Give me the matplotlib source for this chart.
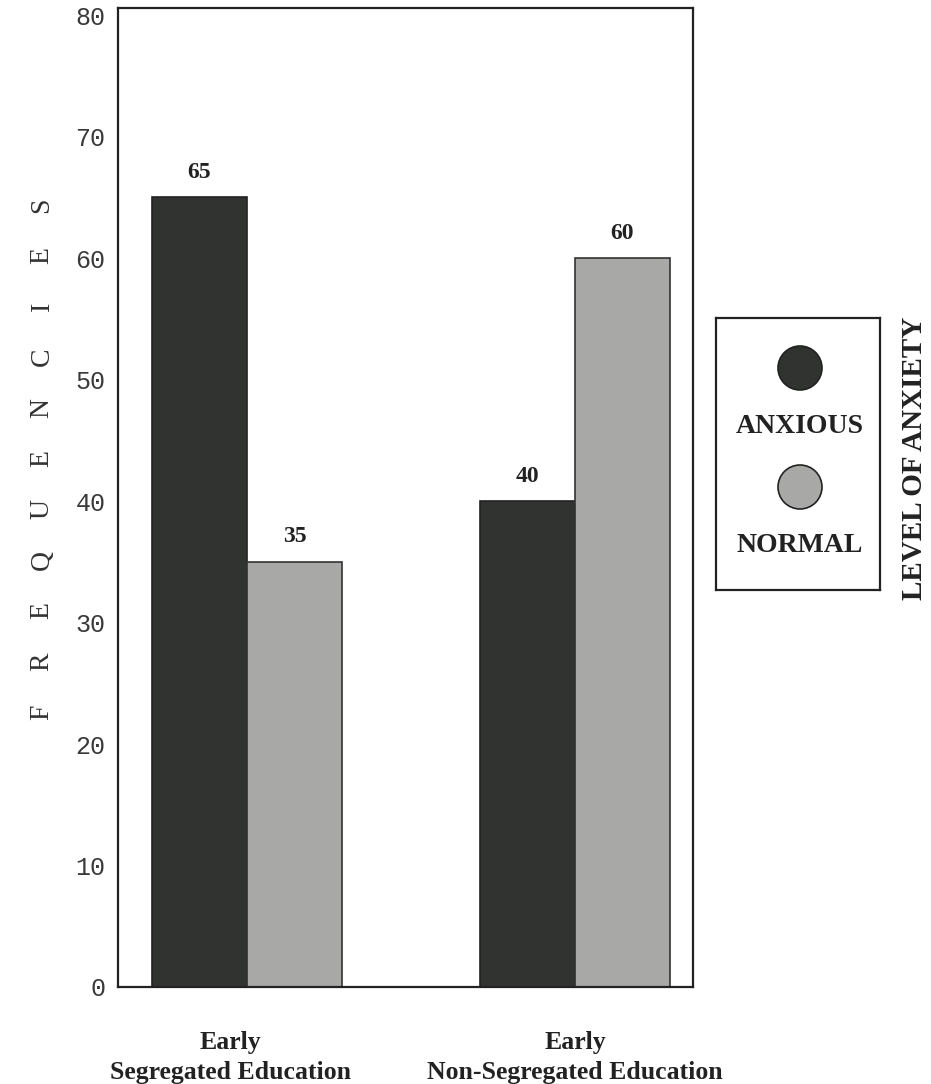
import matplotlib
matplotlib.use("Agg")
import matplotlib.pyplot as plt
from matplotlib.patches import Circle
import numpy as np

groups = ["Early\nSegregated Education", "Early\nNon-Segregated Education"]
anxious = [65, 40]
normal = [35, 60]
legend_labels = ["ANXIOUS", "NORMAL"]
yticks = [0, 10, 20, 30, 40, 50, 60, 70, 80]

dark = "#303330"
light = "#a8a9a7"
serif = "Liberation Serif"

fig = plt.figure(figsize=(9.31, 10.84), dpi=100)
W, H = 931, 1084
ax = fig.add_axes([118 / W, 1 - 987 / H, (693 - 118) / W, (987 - 8) / H])

x = np.arange(len(groups))
w = 0.29
b1 = ax.bar(x - w / 2, anxious, w, color=dark, edgecolor="#222222", linewidth=1.2)
b2 = ax.bar(x + w / 2, normal, w, color=light, edgecolor="#333333", linewidth=1.2)

for bars in (b1, b2):
    for bar in bars:
        ax.text(bar.get_x() + bar.get_width() / 2, bar.get_height() + 1.2,
                f"{bar.get_height():.0f}", ha="center", va="bottom",
                fontsize=17, fontweight="bold", family=serif, color="#222222")

ax.set_xlim(-0.393, 1.36)
ax.set_ylim(0, 80.6)
ax.set_yticks(yticks)
ax.set_yticklabels([str(t) for t in yticks], family="Liberation Mono",
                   fontsize=18, color="#3a3a3a")
ax.tick_params(axis="y", length=0, pad=9)
ax.set_xticks([])
for s in ax.spines.values():
    s.set_linewidth(1.6)
    s.set_color("#222222")

# category labels below the axes (first one sits a bit left in the original)
label_shift = [-0.05, 0.0]
for xi, g, dx in zip(x, groups, label_shift):
    ax.text(xi + dx, -3.6, g, ha="center", va="top", fontsize=18.5,
            fontweight="bold", family=serif, color="#222222",
            linespacing=1.38, clip_on=False)

# spaced vertical y label
letters = "FREQUENCIES"
ys = np.linspace(712, 205, len(letters))
for ch, yy in zip(letters, ys):
    fig.text(42 / W, 1 - yy / H, ch, rotation=90, ha="center", va="center",
             fontsize=20, family=serif, color="#333333")

# legend box
lax = fig.add_axes([716 / W, 1 - 590 / H, (880 - 716) / W, (590 - 318) / H])
lax.set_xlim(0, 164)
lax.set_ylim(272, 0)
lax.set_aspect("equal")
lax.set_xticks([])
lax.set_yticks([])
for s in lax.spines.values():
    s.set_linewidth(1.6)
    s.set_color("#222222")
for col, lab, cy in zip([dark, light], legend_labels, [50, 169]):
    lax.add_patch(Circle((84, cy), 22, facecolor=col, edgecolor="#222222", linewidth=1.2))
    lax.text(84, cy + 59, lab, ha="center", va="center", fontsize=20,
             fontweight="bold", family=serif, color="#222222")

fig.text(915 / W, 1 - 458 / H, "LEVEL OF ANXIETY", rotation=90, ha="center",
         va="center", fontsize=21, fontweight="bold", family=serif, color="#222222")

plt.savefig("out.png", dpi=100)
plt.close()
